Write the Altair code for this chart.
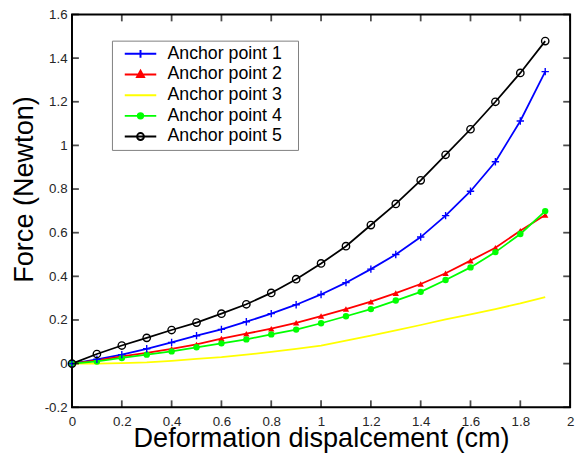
import altair as alt
import pandas as pd

# ---------------- data ----------------
x_values = [0.0, 0.1, 0.2, 0.3, 0.4, 0.5, 0.6, 0.7, 0.8, 0.9,
            1.0, 1.1, 1.2, 1.3, 1.4, 1.5, 1.6, 1.7, 1.8, 1.9]
anchor_1 = [0, 0.02, 0.041, 0.068, 0.097, 0.128, 0.157, 0.192, 0.229, 0.27,
            0.317, 0.371, 0.433, 0.5, 0.58, 0.678, 0.79, 0.925, 1.112, 1.338]
anchor_2 = [0, 0.015, 0.033, 0.049, 0.068, 0.088, 0.115, 0.137, 0.16, 0.187,
            0.218, 0.25, 0.284, 0.323, 0.365, 0.414, 0.472, 0.531, 0.609, 0.681]
anchor_3 = [0, 0.0, 0.002, 0.006, 0.013, 0.022, 0.03, 0.041, 0.054, 0.068,
            0.083, 0.105, 0.128, 0.152, 0.177, 0.203, 0.226, 0.25, 0.276, 0.305]
anchor_4 = [0, 0.01, 0.026, 0.041, 0.056, 0.075, 0.093, 0.111, 0.134, 0.156,
            0.185, 0.217, 0.25, 0.289, 0.329, 0.383, 0.441, 0.511, 0.594, 0.699]
anchor_5 = [0, 0.044, 0.083, 0.118, 0.154, 0.188, 0.229, 0.272, 0.324, 0.387,
            0.459, 0.538, 0.635, 0.732, 0.84, 0.957, 1.074, 1.2, 1.332, 1.478]

series_names = ["Anchor point 1", "Anchor point 2", "Anchor point 3",
                "Anchor point 4", "Anchor point 5"]
series_colors = ["#0000ff", "#ff0000", "#ffff00", "#00ff00", "#000000"]
x_domain = [0, 2]
y_domain = [-0.2, 1.6]
x_tick_values = [0, 0.2, 0.4, 0.6, 0.8, 1, 1.2, 1.4, 1.6, 1.8, 2]
y_tick_values = [-0.2, 0, 0.2, 0.4, 0.6, 0.8, 1, 1.2, 1.4, 1.6]
x_title = "Deformation dispalcement (cm)"
y_title = "Force (Newton)"

# ---------------- tables ----------------
series_values = [anchor_1, anchor_2, anchor_3, anchor_4, anchor_5]
records = []
for name, vals in zip(series_names, series_values):
    for xv, yv in zip(x_values, vals):
        records.append({"x": xv, "y": yv, "series": name})
df = pd.DataFrame(records)
xt_df = pd.DataFrame({"x": x_tick_values})
yt_df = pd.DataFrame({"y": y_tick_values})

W, H = 506, 399
TICK = 7
FONT = "Liberation Sans"
label_expr = ("datum.value < 0 ? '-' + format(-datum.value, '~g') : "
              "format(datum.value, '~g')")

x_scale = alt.Scale(domain=x_domain, nice=False, zero=False)
y_scale = alt.Scale(domain=y_domain, nice=False, zero=False)

x_main = alt.Axis(orient="bottom", values=x_tick_values, ticks=False, tickSize=0,
                  domain=False, grid=False, labelExpr=label_expr, labelFlush=False,
                  labelFont=FONT, labelFontSize=13.5, labelColor="#262626",
                  labelPadding=8, title=x_title, titleFont=FONT,
                  titleFontSize=27.5, titleFontWeight="normal", titleColor="black",
                  titleX=W / 2, titleY=40.3, titleBaseline="alphabetic")
y_main = alt.Axis(orient="left", values=y_tick_values, ticks=False, tickSize=0,
                  domain=False, grid=False, labelExpr=label_expr, labelFlush=False,
                  labelFont=FONT, labelFontSize=13.5, labelColor="#262626",
                  labelPadding=5, title=y_title, titleFont=FONT,
                  titleFontSize=27.5, titleFontWeight="normal", titleColor="black",
                  titleX=-39.7, titleY=177.3, titleBaseline="alphabetic",
                  titleAngle=270)


def X(field="x"):
    return alt.X(f"{field}:Q", scale=x_scale, axis=x_main)


def Y(field="y"):
    return alt.Y(f"{field}:Q", scale=y_scale, axis=y_main)


color_all = alt.Scale(domain=series_names, range=series_colors)

lines = alt.Chart(df).mark_line(strokeWidth=1.8).encode(
    x=X(), y=Y(),
    color=alt.Color("series:N", scale=color_all, legend=None),
    order=alt.Order("x:Q"),
)

filled_names = [series_names[1], series_names[3]]
filled_pts = alt.Chart(df).transform_filter(
    alt.FieldOneOfPredicate(field="series", oneOf=filled_names)
).mark_point(filled=True, opacity=1, size=42).encode(
    x=X(), y=Y(),
    color=alt.Color("series:N", scale=color_all, legend=None),
    shape=alt.Shape("series:N",
                    scale=alt.Scale(domain=filled_names,
                                    range=["triangle-up", "circle"]),
                    legend=None),
)

open_names = [series_names[0], series_names[4]]
open_pts = alt.Chart(df).transform_filter(
    alt.FieldOneOfPredicate(field="series", oneOf=open_names)
).mark_point(filled=False, opacity=1, size=56, strokeWidth=1.4).encode(
    x=X(), y=Y(),
    color=alt.Color("series:N", scale=color_all, legend=None),
    shape=alt.Shape("series:N",
                    scale=alt.Scale(domain=open_names,
                                    range=["M-1,0L1,0M0,-1L0,1", "circle"]),
                    legend=None),
)

# inward tick marks on all four sides of the frame (matlab style box)
tick_kw = dict(color="black", thickness=1.8, size=TICK)
half = TICK / 2
ticks_bottom = alt.Chart(xt_df).mark_tick(
    orient="vertical", yOffset=-half, **tick_kw
).encode(x=X(), y=alt.datum(y_domain[0], type="quantitative"))
ticks_top = alt.Chart(xt_df).mark_tick(
    orient="vertical", yOffset=half, **tick_kw
).encode(x=X(), y=alt.datum(y_domain[1], type="quantitative"))
ticks_left = alt.Chart(yt_df).mark_tick(
    orient="horizontal", xOffset=half, **tick_kw
).encode(y=Y(), x=alt.datum(x_domain[0], type="quantitative"))
ticks_right = alt.Chart(yt_df).mark_tick(
    orient="horizontal", xOffset=-half, **tick_kw
).encode(y=Y(), x=alt.datum(x_domain[1], type="quantitative"))

# legend symbols: short line with its marker (unit = 5 px); a trailing move
# widens the legend frame to the reference's size
line_p = "M-0.08,0L6.32,0"
ext = "M33.38,0"
legend_paths = [
    line_p + "M3.12,-0.8L3.12,0.8" + ext,
    line_p + "M3.12,-0.75L3.82,0.5L2.42,0.5ZM3.12,-0.3L3.42,0.25L2.82,0.25Z" + ext,
    line_p + ext,
    line_p + "M2.57,0A0.55,0.55,0,1,0,3.67,0A0.55,0.55,0,1,0,2.57,0"
    "M2.92,0A0.2,0.2,0,1,0,3.32,0A0.2,0.2,0,1,0,2.92,0" + ext,
    line_p + "M2.42,0A0.7,0.7,0,1,0,3.82,0A0.7,0.7,0,1,0,2.42,0" + ext,
]

legend = alt.Legend(title=None, orient="none", legendX=40.6, legendY=26.6,
                    padding=4.4, fillColor="white", strokeColor="#7f7f7f",
                    cornerRadius=0, labelFont=FONT, labelFontSize=18,
                    labelColor="black", labelOffset=34, symbolSize=100,
                    symbolStrokeWidth=2, symbolOpacity=1, rowPadding=3,
                    labelLimit=400)

legend_layer = alt.Chart(df).mark_point(filled=False, opacity=0).encode(
    x=X(), y=Y(),
    color=alt.Color("series:N", scale=color_all, legend=legend),
    shape=alt.Shape("series:N",
                    scale=alt.Scale(domain=series_names, range=legend_paths),
                    legend=legend),
)

chart = alt.layer(
    lines, filled_pts, open_pts,
    ticks_bottom, ticks_top, ticks_left, ticks_right,
    legend_layer,
).resolve_scale(
    color="independent", shape="independent"
).properties(
    width=W, height=H,
    autosize=alt.AutoSizeParams(type="none"),
    padding={"left": 65, "top": 3, "right": 8, "bottom": 50},
    background="white",
).configure_view(stroke="black", strokeWidth=2)

chart.save("out.html", embed_options={"renderer": "svg", "actions": False})
